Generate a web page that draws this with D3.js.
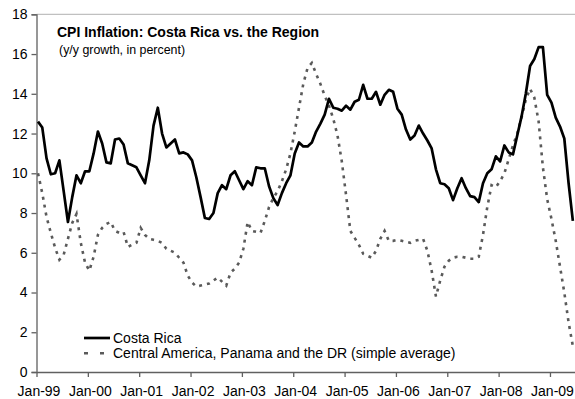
<!DOCTYPE html>
<html>
<head>
<meta charset="utf-8">
<script src="https://cdn.jsdelivr.net/npm/d3@7"></script>
<style>
  body { margin: 0; background: #fff; }
  svg { display: block; font-family: "Liberation Sans", Arial, sans-serif; }
</style>
</head>
<body>
<script>
// Monthly y/y CPI inflation, Jan-99 .. Jun-09
var costaRica = [
  12.6, 12.3, 10.75, 9.95, 10.0, 10.65, 9.1, 7.55, 8.8, 9.9, 9.5, 10.1,
  10.1, 11.0, 12.1, 11.5, 10.55, 10.5, 11.7, 11.75, 11.45, 10.5, 10.4, 10.3,
  9.9, 9.5, 10.65, 12.4, 13.3, 12.0, 11.3, 11.5, 11.7, 11.0, 11.05, 10.95,
  10.65, 9.8, 8.8, 7.75, 7.7, 8.0, 9.0, 9.4, 9.2, 9.9, 10.1, 9.65,
  9.2, 9.6, 9.4, 10.3, 10.25, 10.25, 9.35, 8.75, 8.4, 9.0, 9.5, 9.9,
  11.0, 11.55, 11.35, 11.35, 11.55, 12.1, 12.5, 12.95, 13.75, 13.3, 13.25, 13.15,
  13.4, 13.2, 13.6, 13.7, 14.45, 13.75, 13.75, 14.1, 13.45, 13.95, 14.2, 14.1,
  13.25, 12.95, 12.2, 11.7, 11.9, 12.4, 12.0, 11.65, 11.25, 10.2, 9.5, 9.45,
  9.25, 8.65, 9.25, 9.75, 9.25, 8.85, 8.8, 8.55, 9.5, 10.0, 10.2, 10.85,
  10.6, 11.4, 11.05, 10.95, 11.9, 12.85, 14.0, 15.4, 15.75, 16.35, 16.35, 13.95,
  13.55, 12.8, 12.35, 11.75, 9.5, 7.6
];
var region = [
  10.0, 9.0, 7.8, 7.0, 6.25, 5.65, 5.9, 6.7, 7.5, 7.95, 6.5, 5.5,
  5.1, 5.8, 6.9, 7.25, 7.45, 7.55, 7.1, 7.0, 7.05, 6.3, 6.4, 6.5,
  7.25, 6.9, 6.7, 6.65, 6.6, 6.5, 6.2, 6.1, 6.0, 5.75, 5.5, 4.85,
  4.5, 4.3, 4.35, 4.4, 4.45, 4.6, 4.75, 4.55, 4.35, 5.0, 5.2, 5.5,
  6.2, 7.55, 7.1, 7.05, 7.0, 7.6, 8.3, 8.75, 9.1, 9.6, 10.2, 11.0,
  12.1, 13.3, 14.5, 15.3, 15.55, 15.0, 14.5, 13.9, 13.4, 12.75, 11.9, 10.6,
  8.9, 7.1, 6.75, 6.4, 5.95, 5.85, 5.75, 6.1, 6.7, 7.1, 6.6, 6.6,
  6.65, 6.6, 6.55, 6.5, 6.6, 6.65, 6.7, 6.1, 5.1, 3.8, 4.6, 5.3,
  5.6, 5.75, 5.8, 5.8, 5.75, 5.7, 5.7, 5.8, 6.9, 8.3, 9.4, 9.3,
  9.6, 10.0, 10.7, 11.4, 12.0, 12.8, 13.7, 14.25, 13.8, 12.6, 10.3, 8.7,
  7.7, 6.6, 5.3, 4.0, 2.5, 1.3
];
var tickLabels = ["Jan-99", "Jan-00", "Jan-01", "Jan-02", "Jan-03", "Jan-04",
                  "Jan-05", "Jan-06", "Jan-07", "Jan-08", "Jan-09"];
var yTicks = [0, 2, 4, 6, 8, 10, 12, 14, 16, 18];
var seriesNames = ["Costa Rica", "Central America, Panama and the DR (simple average)"];
var titleText = "CPI Inflation: Costa Rica vs. the Region";
var subtitleText = "(y/y growth, in percent)";

var totalWidth = 575, totalHeight = 399;
var margin = {top: 14.3, right: 0, bottom: 27, left: 36.5};
var width = totalWidth - margin.left - margin.right;
var height = totalHeight - margin.top - margin.bottom;

var svg = d3.select("body").append("svg")
  .attr("width", totalWidth)
  .attr("height", totalHeight);

var g = svg.append("g")
  .attr("transform", "translate(" + margin.left + "," + margin.top + ")");

// scala mensile: le tacche stanno all'inizio del mese, i punti un po' dopo
var x = d3.scaleLinear().domain([0, 125.85]).range([0, width]);
var pointOffset = 0.35;
var y = d3.scaleLinear().domain([0, 18]).range([height, 0]);

// linea di griglia superiore (18)
g.append("line")
  .attr("x1", 0).attr("x2", width)
  .attr("y1", y(18)).attr("y2", y(18))
  .attr("stroke", "#c0c0c0")
  .attr("stroke-width", 1.3);

// asse y
var yAxis = d3.axisLeft(y).tickValues(yTicks).tickSize(5).tickPadding(4)
  .tickFormat(d3.format("d"));
var gy = g.append("g").attr("class", "y axis").call(yAxis);
gy.select(".domain").attr("stroke", "#606060").attr("stroke-width", 1.3);
gy.selectAll(".tick line").attr("stroke", "#606060").attr("stroke-width", 1.3);
gy.selectAll(".tick text").attr("font-size", "14px").attr("fill", "#000")
  .attr("font-family", "Liberation Sans, Arial, sans-serif");

// asse x
var xAxis = d3.axisBottom(x)
  .tickValues(tickLabels.map(function(d, i) { return i * 12; }))
  .tickSize(5).tickPadding(9)
  .tickSizeOuter(0)
  .tickFormat(function(d, i) { return tickLabels[i]; });
var gx = g.append("g").attr("class", "x axis")
  .attr("transform", "translate(0," + height + ")")
  .call(xAxis);
gx.select(".domain").attr("stroke", "#606060").attr("stroke-width", 1.3);
gx.selectAll(".tick line").attr("stroke", "#606060").attr("stroke-width", 1.3);
gx.selectAll(".tick text").attr("font-size", "14px").attr("fill", "#000")
  .attr("dx", "2")
  .attr("font-family", "Liberation Sans, Arial, sans-serif");

var line = d3.line()
  .x(function(d, i) { return x(i + pointOffset); })
  .y(function(d) { return y(d); });

// serie regionale (tratteggiata)
g.append("path")
  .datum(region)
  .attr("d", line)
  .attr("fill", "none")
  .attr("stroke", "#5a5a5a")
  .attr("stroke-width", 2.6)
  .attr("stroke-dasharray", "3,5");

// Costa Rica
g.append("path")
  .datum(costaRica)
  .attr("d", line)
  .attr("fill", "none")
  .attr("stroke", "#000")
  .attr("stroke-width", 2.7)
  .attr("stroke-linejoin", "round");

// titolo
svg.append("text")
  .attr("x", 57).attr("y", 37)
  .attr("font-size", "14px").attr("font-weight", "bold")
  .text(titleText);
svg.append("text")
  .attr("x", 59).attr("y", 54)
  .attr("font-size", "12.4px")
  .text(subtitleText);

// legenda
var legend = svg.append("g");
legend.append("line")
  .attr("x1", 84).attr("x2", 110).attr("y1", 338).attr("y2", 338)
  .attr("stroke", "#000").attr("stroke-width", 2.7);
legend.append("text")
  .attr("x", 113).attr("y", 343).attr("font-size", "14px")
  .text(seriesNames[0]);
legend.append("line")
  .attr("x1", 84).attr("x2", 106).attr("y1", 353.3).attr("y2", 353.3)
  .attr("stroke", "#5a5a5a").attr("stroke-width", 2.6)
  .attr("stroke-dasharray", "4,12");
legend.append("text")
  .attr("x", 113).attr("y", 358).attr("font-size", "14px")
  .text(seriesNames[1]);
</script>
</body>
</html>
